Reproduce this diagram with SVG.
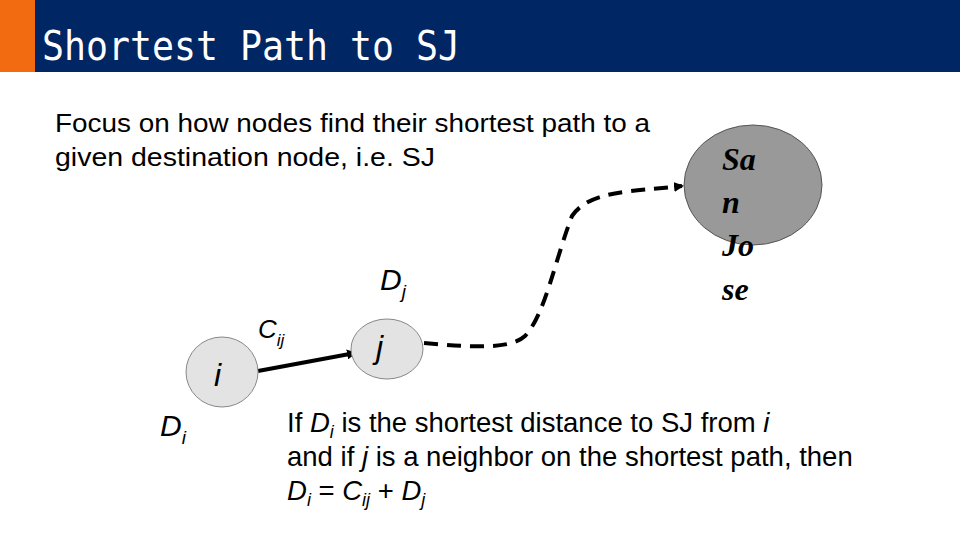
<svg xmlns="http://www.w3.org/2000/svg" width="960" height="540" viewBox="0 0 960 540">
<style>
.s{font-family:"Liberation Sans",Arial,sans-serif;fill:#000}
.t{font-size:26.5px}
.b{font-size:27.5px}
.node{fill:#e3e3e3;stroke:#888;stroke-width:1}
</style>
<defs><marker id="ah" markerWidth="10" markerHeight="10" refX="8" refY="5" orient="auto" markerUnits="userSpaceOnUse"><path d="M0,0 L10,5 L0,10 z" fill="#000"/></marker></defs>
<rect width="960" height="540" fill="#fff"/>
<rect x="0" y="0" width="960" height="72" fill="#002663"/>
<rect x="0" y="0" width="35" height="72" fill="#f26b10"/>
<text x="42" y="60" font-family="'DejaVu Sans Mono',monospace" font-size="40" fill="#fff" textLength="418" lengthAdjust="spacingAndGlyphs">Shortest Path to SJ</text>
<text class="s t" x="55" y="132" textLength="595" lengthAdjust="spacingAndGlyphs">Focus on how nodes find their shortest path to a</text>
<text class="s t" x="55" y="166" textLength="380" lengthAdjust="spacingAndGlyphs">given destination node, i.e.  SJ</text>
<g id="connectors" fill="none" stroke="#000" stroke-width="4">
<line x1="258" y1="371" x2="355" y2="353" marker-end="url(#ah)"/>
<path d="M424,343 C470,347 510,350 525,336 C545,315 555,260 572,216 C590,190 630,192 682,186" stroke-dasharray="14,9" marker-end="url(#ah)"/>
</g>
<g id="node-i"><ellipse class="node" cx="222" cy="372" rx="36" ry="35"/><text class="s" x="214" y="386" font-size="32" font-style="italic">i</text></g>
<g id="node-j"><ellipse class="node" cx="387" cy="349" rx="36" ry="30"/><text class="s" x="376" y="358" font-size="32" font-style="italic">j</text></g>
<g id="node-sj"><ellipse cx="753" cy="185" rx="69" ry="60" fill="#999" stroke="#555" stroke-width="1"/>
<g font-family="'Liberation Serif',serif" font-weight="bold" font-style="italic" font-size="32" fill="#000">
<text x="722" y="170">Sa</text><text x="722" y="213">n</text><text x="722" y="256">Jo</text><text x="722" y="300">se</text></g></g>
<text class="s" x="380" y="290" font-size="30" font-style="italic">D<tspan font-size="19" dy="8">j</tspan></text>
<text class="s" x="258" y="338" font-size="26" font-style="italic">C<tspan font-size="17" dy="8">ij</tspan></text>
<text class="s" x="160" y="436" font-size="30" font-style="italic">D<tspan font-size="19" dy="8">i</tspan></text>
<text class="s b" x="287" y="432">If <tspan font-style="italic">D</tspan><tspan font-style="italic" font-size="18" dy="6">i</tspan><tspan dy="-6"> is the shortest distance to SJ from </tspan><tspan font-style="italic">i</tspan></text>
<text class="s b" x="287" y="466">and if <tspan font-style="italic">j</tspan> is a neighbor on the shortest path, then</text>
<text class="s b" x="287" y="500"><tspan font-style="italic">D</tspan><tspan font-style="italic" font-size="18" dy="6">i</tspan><tspan dy="-6"> = </tspan><tspan font-style="italic">C</tspan><tspan font-style="italic" font-size="18" dy="6">ij</tspan><tspan dy="-6"> + </tspan><tspan font-style="italic">D</tspan><tspan font-style="italic" font-size="18" dy="6">j</tspan></text>
</svg>
